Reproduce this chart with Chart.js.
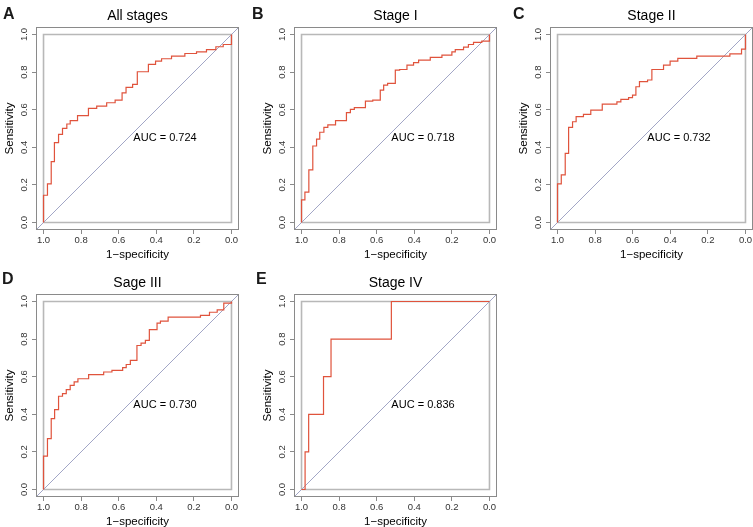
<!DOCTYPE html>
<html>
<head>
<meta charset="utf-8">
<script src="https://cdn.jsdelivr.net/npm/chart.js@4/dist/chart.umd.min.js"></script>
<style>
  html, body { margin: 0; padding: 0; background: #fff; }
  body { width: 753px; height: 527px; position: relative; overflow: hidden; font-family: "Liberation Sans", Arial, sans-serif; }
  canvas { position: absolute; }
  .tag { position: absolute; font-weight: bold; font-size: 16px; line-height: 16px; color: #1a1a1a; }
</style>
</head>
<body>
<script>
// ROC curves: specificity on x (reversed), sensitivity on y
const panelTags = ['A', 'B', 'C', 'D', 'E'];
const panelTitles = ['All stages', 'Stage I', 'Stage II', 'Sage III', 'Stage IV'];
const aucValues = ['0.724', '0.718', '0.732', '0.730', '0.836'];
const tickValues = [0, 0.2, 0.4, 0.6, 0.8, 1];

const specAll = [1, 1, 0.979, 0.959, 0.942, 0.920, 0.899, 0.876, 0.858, 0.819, 0.761, 0.717, 0.664, 0.619, 0.582, 0.561, 0.526, 0.501, 0.442, 0.404, 0.372, 0.319, 0.248, 0.186, 0.133, 0.083, 0.044, 0, 0];
const sensAll = [0, 0.145, 0.205, 0.324, 0.425, 0.469, 0.501, 0.524, 0.542, 0.568, 0.607, 0.619, 0.637, 0.651, 0.690, 0.719, 0.735, 0.802, 0.841, 0.858, 0.871, 0.885, 0.899, 0.908, 0.920, 0.935, 0.947, 0.958, 1.0];

const specI = [1, 1, 0.982, 0.961, 0.940, 0.920, 0.903, 0.881, 0.860, 0.819, 0.761, 0.740, 0.719, 0.660, 0.621, 0.581, 0.563, 0.542, 0.501, 0.478, 0.439, 0.404, 0.377, 0.315, 0.253, 0.200, 0.182, 0.138, 0.112, 0.085, 0.041, 0];
const sensI = [0, 0.120, 0.161, 0.280, 0.407, 0.444, 0.480, 0.506, 0.519, 0.542, 0.584, 0.602, 0.611, 0.646, 0.651, 0.704, 0.731, 0.740, 0.811, 0.814, 0.837, 0.850, 0.864, 0.878, 0.890, 0.908, 0.920, 0.933, 0.947, 0.958, 0.965, 1.0];

const specII = [1, 1, 0.980, 0.959, 0.941, 0.920, 0.901, 0.862, 0.823, 0.762, 0.684, 0.663, 0.622, 0.601, 0.583, 0.564, 0.521, 0.498, 0.436, 0.401, 0.360, 0.259, 0.083, 0.021, 0];
const sensII = [0, 0.205, 0.253, 0.368, 0.506, 0.536, 0.563, 0.575, 0.598, 0.630, 0.642, 0.655, 0.664, 0.678, 0.722, 0.749, 0.758, 0.814, 0.837, 0.858, 0.873, 0.885, 0.897, 0.922, 1.0];

const specIII = [1, 1, 0.979, 0.959, 0.941, 0.920, 0.899, 0.879, 0.858, 0.837, 0.817, 0.760, 0.680, 0.636, 0.579, 0.560, 0.538, 0.503, 0.481, 0.458, 0.437, 0.396, 0.378, 0.337, 0.165, 0.117, 0.076, 0.041, 0];
const sensIII = [0, 0.177, 0.271, 0.377, 0.425, 0.496, 0.510, 0.531, 0.554, 0.572, 0.589, 0.611, 0.625, 0.634, 0.648, 0.665, 0.687, 0.766, 0.779, 0.793, 0.850, 0.885, 0.896, 0.917, 0.926, 0.943, 0.956, 0.991, 1.0];

const specIV = [1, 0.981, 0.962, 0.883, 0.843, 0.522, 0];
const sensIV = [0, 0.2, 0.4, 0.6, 0.8, 1.0, 1.0];

const specList = [specAll, specI, specII, specIII, specIV];
const sensList = [sensAll, sensI, sensII, sensIII, sensIV];

// page layout (canvas top-left, letter position)
const canvasPos = [[0, 0], [258, 0], [514, 0], [0, 267], [258, 267]];
const tagPos = [[3, 6], [252, 6], [513, 6], [2, 271], [256, 271]];

const FONT = '"Liberation Sans", Arial, Helvetica, sans-serif';
const AX_MIN = -0.04, AX_MAX = 1.04;

const frameBox = {
  id: 'frameBox',
  afterDraw(chart) {
    const { ctx, chartArea: a } = chart;
    ctx.save();
    ctx.strokeStyle = '#8a8a8a';
    ctx.lineWidth = 1;
    ctx.strokeRect(a.left + 0.5, a.top + 0.5, a.width - 1, a.height - 1);
    ctx.restore();
  }
};

const aucLabel = {
  id: 'aucLabel',
  afterDatasetsDraw(chart, args, opts) {
    const { ctx, scales: { x, y } } = chart;
    ctx.save();
    ctx.font = '11px ' + FONT;
    ctx.fillStyle = '#000';
    ctx.textAlign = 'left';
    ctx.textBaseline = 'middle';
    ctx.fillText(opts.text, x.getPixelForValue(0.522), y.getPixelForValue(0.45));
    ctx.restore();
  }
};

function axisOpts(extra) {
  return Object.assign({
    type: 'linear',
    min: AX_MIN,
    max: AX_MAX,
    afterBuildTicks: s => { s.ticks = tickValues.map(v => ({ value: v })); },
    border: { display: false },
    grid: { drawOnChartArea: false, drawTicks: true, tickLength: 4, color: '#8a8a8a' },
  }, extra);
}

function makeRoc(canvas, spec, sens, title, auc) {
  const curve = spec.map((s, i) => ({ x: s, y: sens[i] }));
  return new Chart(canvas, {
    type: 'line',
    data: {
      datasets: [
        { data: curve, borderColor: '#e0533c', borderWidth: 1.2, stepped: 'before', pointRadius: 0 },
        // identity line, drawn across the whole plot region
        { data: [{ x: AX_MAX, y: AX_MIN }, { x: AX_MIN, y: AX_MAX }], borderColor: '#a2a6c6', borderWidth: 1, pointRadius: 0 },
        // unit square
        { data: [{ x: 1, y: 0 }, { x: 1, y: 1 }, { x: 0, y: 1 }, { x: 0, y: 0 }, { x: 1, y: 0 }], borderColor: '#b8b8b8', borderWidth: 1.6, pointRadius: 0 }
      ]
    },
    options: {
      responsive: false,
      animation: false,
      events: [],
      layout: { padding: 0 },
      plugins: {
        legend: { display: false },
        tooltip: { enabled: false },
        title: {
          display: true, text: title, fullSize: false, color: '#000',
          font: { family: FONT, size: 14, weight: 'normal' },
          padding: { top: 8, bottom: 2.2 }
        },
        aucLabel: { text: 'AUC = ' + auc }
      },
      scales: {
        x: axisOpts({
          reverse: true,
          afterFit: s => { s.height = 36; },
          ticks: { padding: 1, color: '#333', font: { family: FONT, size: 9.5 }, maxRotation: 0, autoSkip: false, callback: v => v.toFixed(1) },
          title: { display: true, text: '1−specificity', color: '#000', font: { family: FONT, size: 11.5 }, padding: { top: 0, bottom: 4.5 } }
        }),
        y: axisOpts({
          afterFit: s => { s.width = 36; },
          ticks: { padding: 1, color: '#333', font: { family: FONT, size: 9.5 }, minRotation: 90, maxRotation: 90, crossAlign: 'center', autoSkip: false, callback: v => v.toFixed(1) },
          title: { display: true, text: 'Sensitivity', color: '#000', font: { family: FONT, size: 11.5 }, padding: { top: 3, bottom: 0 } }
        })
      }
    },
    plugins: [frameBox, aucLabel]
  });
}

panelTitles.forEach((title, i) => {
  const cv = document.createElement('canvas');
  cv.width = 239;
  cv.height = 266;
  cv.style.left = canvasPos[i][0] + 'px';
  cv.style.top = canvasPos[i][1] + 'px';
  document.body.appendChild(cv);

  const tag = document.createElement('div');
  tag.className = 'tag';
  tag.textContent = panelTags[i];
  tag.style.left = tagPos[i][0] + 'px';
  tag.style.top = tagPos[i][1] + 'px';
  document.body.appendChild(tag);

  makeRoc(cv, specList[i], sensList[i], title, aucValues[i]);
});
</script>
</body>
</html>
